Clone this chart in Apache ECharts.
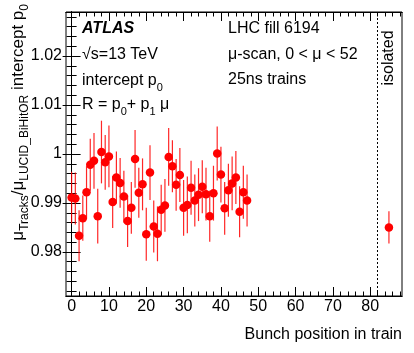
<!DOCTYPE html>
<html><head><meta charset="utf-8">
<script src="https://cdn.jsdelivr.net/npm/echarts@6/dist/echarts.min.js"></script>
<style>html,body{margin:0;padding:0;background:#fff}#c{width:414px;height:353px}</style>
</head><body><div id="c"></div>
<script>
// ---- data ----
const bunchPos = [0,1,2,3,4,5,6,7,8,9,10,11,12,13,14,15,16,17,18,19,20,21,22,23,24,25,26,27,28,29,30,31,32,33,34,35,36,37,38,39,40,41,42,43,44,45,46,47];
const p0 = [0.9911,0.9909,0.9833,0.9869,0.9922,0.9978,0.9986,0.9873,1.0004,0.9983,0.9995,0.9902,0.9952,0.9941,0.9913,0.9863,0.9890,0.9990,0.9921,0.9938,0.9836,0.9962,0.9852,0.9837,0.9886,0.9895,0.9994,0.9975,0.9937,0.9957,0.9890,0.9896,0.9931,0.9905,0.9917,0.9933,0.9918,0.9873,0.9920,1.0001,0.9958,0.9889,0.9926,0.9940,0.9952,0.9882,0.9922,0.9905];
const p0Err = [0.0053,0.0053,0.0052,0.0046,0.0053,0.0053,0.0057,0.0056,0.0064,0.0056,0.0063,0.0053,0.0053,0.0051,0.0053,0.0053,0.0053,0.0059,0.0051,0.0053,0.0054,0.0056,0.0053,0.0056,0.0051,0.0054,0.0059,0.0053,0.0053,0.0055,0.0057,0.0058,0.0055,0.0053,0.0054,0.0054,0.0054,0.0052,0.0056,0.0055,0.0057,0.0054,0.0054,0.0055,0.0054,0.0052,0.0054,0.0053];
const isoPos = [85];
const isoP0 = [0.9850];
const isoErr = [0.0033];
const dividerPos = 82;
const xTickLabels = [0,10,20,30,40,50,60,70,80];
const yTickLabels = [0.98,0.99,1.00,1.01,1.02];

const X_MIN = -1.5, X_MAX = 88.5, Y_MIN = 0.971, Y_MAX = 1.029;
const xMinor = []; for (let v = 0; v <= 88; v += 2) xMinor.push(v);
const yMinor = []; for (let i = 972; i <= 1028; i += 2) yMinor.push(i / 1000);

const FF = '"Liberation Sans", Arial, Helvetica, sans-serif';
const tk = {color:'#000', width:1};

function xAx(pos, ticks, len, labels) {
  return {type:'value', min:X_MIN, max:X_MAX, position:pos,
    axisLine:{show:true, lineStyle:{color:'#000', width:1}},
    axisTick:{show:true, inside:true, length:len, customValues:ticks, lineStyle:tk},
    axisLabel:{show:labels, customValues:ticks, color:'#000', fontSize:16, fontFamily:FF, margin:3},
    splitLine:{show:false}};
}
function yAx(pos, ticks, len, labels) {
  return {type:'value', min:Y_MIN, max:Y_MAX, position:pos,
    axisLine:{show:true, lineStyle:{color:'#000', width:1}},
    axisTick:{show:true, inside:true, length:len, customValues:ticks, lineStyle:tk},
    axisLabel:{show:labels, customValues:ticks, color:'#000', fontSize:16, fontFamily:FF, margin:4,
      formatter: v => String(parseFloat(Number(v).toFixed(3)))},
    splitLine:{show:false}};
}

const errData = bunchPos.map((x,i)=>[x, p0[i]-p0Err[i], p0[i]+p0Err[i]])
  .concat(isoPos.map((x,i)=>[x, isoP0[i]-isoErr[i], isoP0[i]+isoErr[i]]));
const ptData = bunchPos.map((x,i)=>[x,p0[i]]).concat(isoPos.map((x,i)=>[x,isoP0[i]]));

const nrm = {fontSize:16, fontFamily:FF, color:'#000', lineHeight:24, verticalAlign:'middle'};
const sub = {fontSize:11, fontFamily:FF, color:'#000', verticalAlign:'bottom'};
const nrmY = {fontSize:17, fontFamily:FF, color:'#000', lineHeight:26, verticalAlign:'middle'};
const subY = {fontSize:12, fontFamily:FF, color:'#000', verticalAlign:'bottom'};
function txt(x, y, text, extra) {
  return Object.assign({type:'text', x:x, y:y, silent:true,
    style:{text:text, rich:{n:nrm, s:sub}, font:'16px '+FF, fill:'#000', align:'left', verticalAlign:'middle'}}, extra||{});
}

const chart = echarts.init(document.getElementById('c'), null, {renderer:'canvas'});
chart.setOption({
  animation:false,
  backgroundColor:'#fff',
  grid:{left:66, right:12, top:12, bottom:57, show:true, borderColor:'#000', borderWidth:1, backgroundColor:'transparent'},
  xAxis:[xAx('bottom', xTickLabels, 9, true), xAx('bottom', xMinor, 4.5, false), xAx('top', xTickLabels, 9, false), xAx('top', xMinor, 4.5, false)],
  yAxis:[yAx('left', yTickLabels, 9, true), yAx('left', yMinor, 5, false), yAx('right', yTickLabels, 9, false), yAx('right', yMinor, 5, false)],
  series:[
    {type:'custom', xAxisIndex:0, yAxisIndex:0, data:errData, silent:true, z:2,
      renderItem:(params, api)=>{
        const lo = api.coord([api.value(0), api.value(1)]);
        const hi = api.coord([api.value(0), api.value(2)]);
        return {type:'line', shape:{x1:lo[0], y1:lo[1], x2:hi[0], y2:hi[1]}, style:{stroke:'#ff0000', lineWidth:1.2, opacity:0.85}};
      }},
    {type:'scatter', xAxisIndex:0, yAxisIndex:0, data:ptData, symbol:'circle', symbolSize:8.5, z:3, silent:true,
      itemStyle:{color:'#ff0000', opacity:1},
      markLine:{silent:true, symbol:['none','none'], label:{show:false},
        lineStyle:{color:'#000', type:[2,2], width:1, opacity:1}, data:[{xAxis:dividerPos}]}}
  ],
  graphic:[
    {type:'text', x:82, y:29, silent:true, style:{text:'ATLAS', font:'italic bold 16px '+FF, fill:'#000', align:'left', verticalAlign:'middle'}},
    txt(82, 55, '√s=13 TeV'),
    txt(82, 81, '{n|intercept p}{s|0}'),
    txt(82, 105, '{n|R = p}{s|0}{n|+ p}{s|1}{n| μ}'),
    txt(228, 29, 'LHC fill 6194'),
    txt(228, 55, 'μ-scan, 0 < μ < 52'),
    txt(228, 80, '25ns trains'),
    {type:'text', x:389, y:58, rotation:Math.PI/2, silent:true, style:{text:'isolated', font:'16px '+FF, fill:'#000', align:'center', verticalAlign:'middle'}},
    {type:'text', x:402, y:335, silent:true, style:{text:'Bunch position in train', font:'16px '+FF, fill:'#000', align:'right', verticalAlign:'middle'}},
    {type:'text', x:18, y:4, rotation:Math.PI/2, silent:true,
      style:{text:'{n|μ}{s|Tracks}{n|/μ}{s|LUCID_BiHitOR}{n| intercept p}{s|0}', rich:{n:nrmY, s:subY}, font:'17px '+FF, fill:'#000', align:'right', verticalAlign:'middle'}}
  ]
});
</script></body></html>
